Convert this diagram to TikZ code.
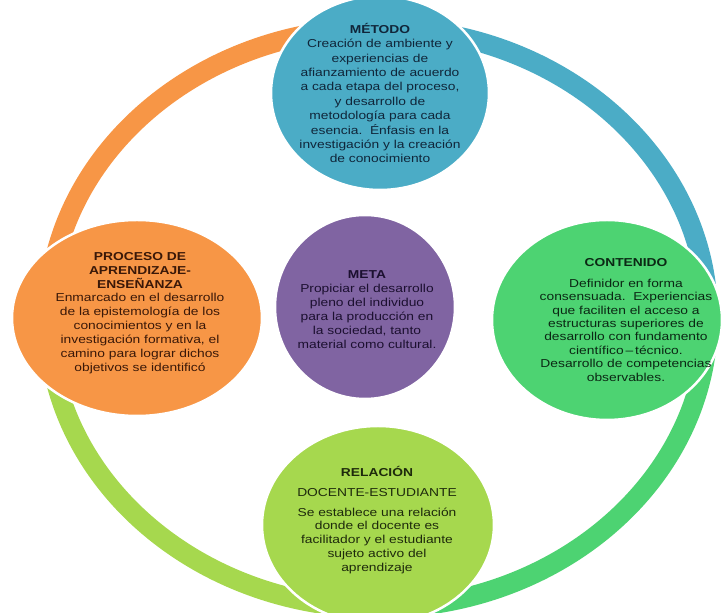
\documentclass[tikz,border=0pt]{standalone}
\usepackage{fontspec}
\newfontfamily\cyclefont{Liberation Sans}[FakeStretch=1.2]
\usetikzlibrary{shapes.geometric}

\definecolor{metodoblue}{HTML}{4BACC6}
\definecolor{procesoorange}{HTML}{F79646}
\definecolor{metapurple}{HTML}{8064A2}
\definecolor{contenidogreen}{HTML}{4DD372}
\definecolor{relacionlime}{HTML}{A6D84E}
\definecolor{metodotext}{HTML}{10263A}
\definecolor{procesotext}{HTML}{3A1808}
\definecolor{metatext}{HTML}{1C1030}
\definecolor{contenidotext}{HTML}{0B2814}
\definecolor{relaciontext}{HTML}{1E2A0C}

\begin{document}
\begin{tikzpicture}[
    x=1pt, y=1pt,
    bubble_style/.style={ellipse, draw=white, line width=2.5pt, inner sep=0pt},
    bubble_text_style/.style={align=center, inner sep=0pt, font=\cyclefont\fontsize{11.5}{13.9}\selectfont},
    ring_arc_style/.style={line width=20pt}
]
\useasboundingbox (0,0) rectangle (724,613);

% Ring behind the circles
\coordinate (ring) at (378,295);
\draw[ring_arc_style, procesoorange] (ring) ++(180:330pt and 290pt)
    arc[start angle=180, end angle=90, x radius=330pt, y radius=290pt];
\draw[ring_arc_style, metodoblue] (ring) ++(90:330pt and 290pt)
    arc[start angle=90, end angle=0, x radius=330pt, y radius=290pt];
\draw[ring_arc_style, contenidogreen] (ring) ++(0:330pt and 290pt)
    arc[start angle=0, end angle=-90, x radius=330pt, y radius=290pt];
\draw[ring_arc_style, relacionlime] (ring) ++(-90:330pt and 290pt)
    arc[start angle=-90, end angle=-180, x radius=330pt, y radius=290pt];

% Top: método
\node[bubble_style, fill=metodoblue, minimum width=218pt, minimum height=194pt] (metodo) at (380,520) {};
\node[bubble_text_style, text=metodotext, font=\cyclefont\fontsize{11.5}{14.4}\selectfont] (metodo_text) at (metodo) {%
    \textbf{MÉTODO}\\ Creación de ambiente y\\ experiencias de\\ afianzamiento de acuerdo\\
    a cada etapa del proceso,\\ y desarrollo de\\ metodología para cada\\
    esencia.\ \ Énfasis en la\\ investigación y la creación\\ de conocimiento};

% Left: proceso
\node[bubble_style, fill=procesoorange, minimum width=250pt, minimum height=196pt] (proceso) at (137,295) {};
\node[bubble_text_style, text=procesotext] (proceso_text) at (140,300) {%
    \textbf{PROCESO DE}\\ \textbf{APRENDIZAJE-}\\ \textbf{ENSEÑANZA}\\ Enmarcado en el desarrollo\\
    de la epistemología de los\\ conocimientos y en la\\ investigación formativa, el\\
    camino para lograr dichos\\ objetivos se identificó};

% Centre: meta
\node[bubble_style, fill=metapurple, minimum width=180pt, minimum height=184pt] (meta) at (365,306) {};
\node[bubble_text_style, text=metatext, font=\cyclefont\fontsize{11.5}{14}\selectfont] (meta_text) at (367,303) {%
    \textbf{META}\\ Propiciar el desarrollo\\ pleno del individuo\\ para la producción en\\
    la sociedad, tanto\\ material como cultural.};

% Right: contenido
\node[bubble_style, fill=contenidogreen, minimum width=230pt, minimum height=200pt] (contenido) at (607,293) {};
\node[bubble_text_style, text=contenidotext, font=\cyclefont\fontsize{11.5}{13.4}\selectfont] (contenido_text) at (626,293) {%
    \textbf{CONTENIDO}\\[7pt] Definidor en forma\\ consensuada.\ \ Experiencias\\ que faciliten el acceso a\\
    estructuras superiores de\\ desarrollo con fundamento\\ científico\,–\,técnico.\\
    Desarrollo de competencias\\ observables.};

% Bottom: relación
\node[bubble_style, fill=relacionlime, minimum width=232pt, minimum height=198pt] (relacion) at (378,88) {};
\node[bubble_text_style, text=relaciontext, font=\cyclefont\fontsize{11.5}{13.8}\selectfont] (relacion_text) at (377,93) {%
    \textbf{RELACIÓN}\\[6pt] DOCENTE-ESTUDIANTE\\[6pt] Se establece una relación\\ donde el docente es\\
    facilitador y el estudiante\\ sujeto activo del\\ aprendizaje};

\end{tikzpicture}
\end{document}
